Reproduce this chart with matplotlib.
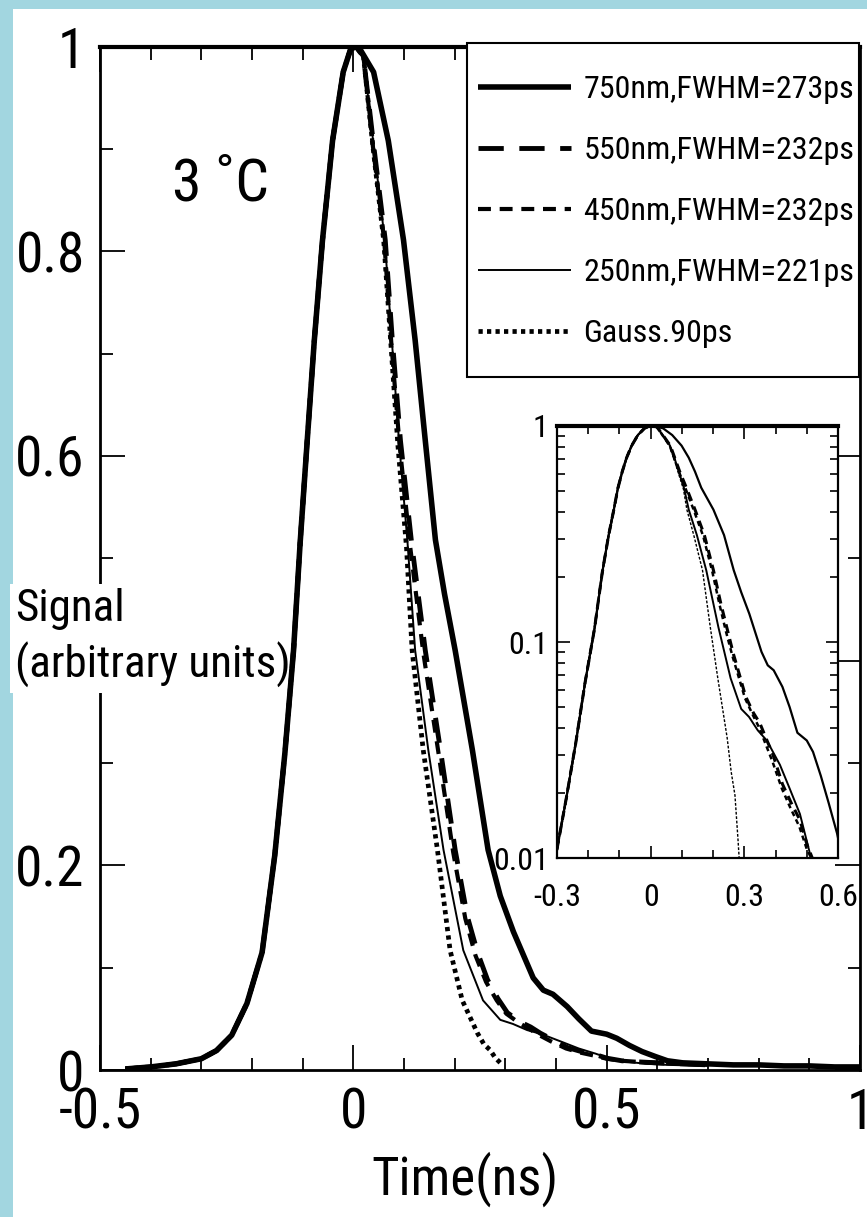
import os
import numpy as np
import matplotlib
matplotlib.use('Agg')
import matplotlib.pyplot as plt
from matplotlib import font_manager
from matplotlib.font_manager import FontProperties
from matplotlib.patches import Rectangle
from matplotlib.ticker import MultipleLocator, LogLocator, NullFormatter

# rising edge, shared by all traces (they sit on top of each other)
rise_t = [-0.45, -0.40, -0.35, -0.30, -0.27, -0.24, -0.21, -0.18, -0.155,
          -0.135, -0.118, -0.105, -0.091, -0.077, -0.061, -0.041, -0.02, -0.005]
rise_s = [0.001, 0.003, 0.006, 0.011, 0.019, 0.034, 0.065, 0.115, 0.21,
          0.31, 0.41, 0.515, 0.615, 0.713, 0.81, 0.908, 0.975, 0.998]

# falling edges
t750 = [0.01, 0.04, 0.069, 0.099, 0.122, 0.142, 0.162, 0.18, 0.201, 0.235,
        0.266, 0.29, 0.316, 0.355, 0.375, 0.394, 0.422, 0.445, 0.47, 0.50,
        0.52, 0.545, 0.57, 0.597, 0.62, 0.65, 0.70, 0.75, 0.80, 0.85, 0.90,
        0.95, 1.0]
s750 = [1.0, 0.975, 0.908, 0.811, 0.713, 0.615, 0.518, 0.465, 0.41, 0.3125,
        0.215, 0.17, 0.135, 0.09, 0.078, 0.074, 0.062, 0.05, 0.038, 0.035,
        0.031, 0.024, 0.018, 0.013, 0.009, 0.007, 0.006, 0.005, 0.005, 0.004,
        0.004, 0.003, 0.003]

t550 = [0.005, 0.02, 0.039, 0.063, 0.077, 0.093, 0.115, 0.142, 0.172, 0.201,
        0.225, 0.245, 0.265, 0.285, 0.304, 0.329, 0.35, 0.369, 0.392, 0.422,
        0.45, 0.478, 0.501, 0.53, 0.56, 0.60, 0.65, 0.70]
s550 = [1.0, 0.99, 0.908, 0.811, 0.713, 0.615, 0.515, 0.41, 0.3125, 0.215,
        0.15, 0.115, 0.088, 0.07, 0.056, 0.047, 0.042, 0.036, 0.03, 0.022,
        0.018, 0.015, 0.0115, 0.009, 0.008, 0.007, 0.006, 0.005]

t450 = [0.005, 0.02, 0.038, 0.061, 0.075, 0.091, 0.112, 0.138, 0.168, 0.197,
        0.221, 0.241, 0.262, 0.283, 0.302, 0.327, 0.348, 0.367, 0.39, 0.42,
        0.448, 0.476, 0.50, 0.53, 0.56, 0.60, 0.65, 0.70]
s450 = [1.0, 0.99, 0.905, 0.81, 0.71, 0.612, 0.512, 0.408, 0.31, 0.213,
        0.148, 0.112, 0.086, 0.068, 0.055, 0.046, 0.04, 0.034, 0.028, 0.021,
        0.017, 0.014, 0.011, 0.009, 0.008, 0.007, 0.006, 0.005]

t250 = [0.005, 0.02, 0.039, 0.062, 0.076, 0.09, 0.107, 0.122, 0.148, 0.178,
        0.217, 0.256, 0.29, 0.315, 0.343, 0.372, 0.414, 0.445, 0.478, 0.51,
        0.54, 0.58, 0.62, 0.70]
s250 = [1.0, 0.99, 0.908, 0.811, 0.713, 0.615, 0.515, 0.41, 0.3125, 0.215,
        0.117, 0.068, 0.049, 0.045, 0.039, 0.035, 0.027, 0.021, 0.016, 0.0105,
        0.008, 0.006, 0.005, 0.004]

tgau = [0.005, 0.02, 0.038, 0.06, 0.074, 0.088, 0.105, 0.116, 0.138, 0.166,
        0.191, 0.215, 0.245, 0.258, 0.27, 0.28, 0.29]
sgau = [1.0, 0.99, 0.905, 0.81, 0.71, 0.61, 0.51, 0.41, 0.3125, 0.215,
        0.117, 0.068, 0.036, 0.025, 0.0195, 0.012, 0.007]

labels = ['750nm,FWHM=273ps', '550nm,FWHM=232ps', '450nm,FWHM=232ps',
          '250nm,FWHM=221ps', 'Gauss.90ps']

traces = [(t750, s750), (t550, s550), (t450, s450), (t250, s250), (tgau, sgau)]
main_styles = [dict(lw=4.0, ls='-'),
               dict(lw=3.5, ls=(0, (5.2, 3.2))),
               dict(lw=3.0, ls=(0, (3.1, 2.1))),
               dict(lw=1.4, ls='-'),
               dict(lw=3.4, ls=(0, (0.9, 0.9)))]
inset_styles = [dict(lw=1.6, ls='-'),
                dict(lw=2.2, ls=(0, (3.0, 2.0))),
                dict(lw=1.8, ls=(0, (2.0, 1.5))),
                dict(lw=1.4, ls='-'),
                dict(lw=1.0, ls=(0, (2.0, 1.2)))]


# condensed sans for the lettering; plain Liberation Sans (smaller) if none
def find_font(candidates):
    files = {os.path.basename(f.fname): f.fname
             for f in font_manager.fontManager.ttflist}
    for name in candidates:
        if name in files:
            return files[name]
    return None


narrow = find_font(['NotoSans-ExtraCondensed.ttf', 'NotoSans-Condensed.ttf',
                    'RobotoCondensed-Regular.ttf',
                    'LiberationSansNarrow-Regular.ttf',
                    'DejaVuSansCondensed.ttf'])


def fprop(size, fallback_size):
    if narrow is None:
        return FontProperties(family='Liberation Sans', size=fallback_size)
    return FontProperties(fname=narrow, size=size)


tick_fp = fprop(40, 29)
xlab_fp = fprop(38, 28)
ylab_fp = fprop(32.5, 24)
deg_fp = fprop(43, 31)
inset_fp = fprop(23, 17)
leg_fp = fprop(23, 20)

fig = plt.figure(figsize=(8.67, 12.17), dpi=100, facecolor='#a2d6e0')
fig.patches.append(Rectangle((13/867, 0), 1, 1208/1217, transform=fig.transFigure,
                             facecolor='white', edgecolor='none', zorder=-1))

# main panel
ax = fig.add_axes([100/867, 147/1217, 760/867, 1023.5/1217])
for (t, s), st, lab in zip(traces, main_styles, labels):
    ax.plot(np.r_[rise_t, t], np.r_[rise_s, s], color='black', label=lab,
            solid_capstyle='butt', dash_capstyle='butt', zorder=3, **st)

ax.set_xlim(-0.5, 1)
ax.set_ylim(0, 1)
ax.set_xticks([-0.5, 0, 0.5, 1])
ax.set_xticklabels(['-0.5', '0', '0.5', '1'])
ax.xaxis.set_minor_locator(MultipleLocator(0.1))
ax.set_yticks([0, 0.2, 0.4, 0.6, 0.8, 1])
ax.set_yticklabels(['0', '0.2', '', '0.6', '0.8', '1'])
ax.yaxis.set_minor_locator(MultipleLocator(0.1))
for lbl in ax.get_xticklabels() + ax.get_yticklabels():
    lbl.set_fontproperties(tick_fp)
ax.tick_params(which='both', direction='in', top=True, right=True, width=1.3)
ax.tick_params(which='major', length=18)
ax.tick_params(which='minor', length=9)
ax.tick_params(axis='x', pad=12)
ax.tick_params(axis='y', pad=11)
for side in ['left', 'right', 'bottom']:
    ax.spines[side].set_linewidth(2.0)
ax.spines['top'].set_linewidth(3.0)
# the y label sits over the left spine, the traces stay on top of it
ax.spines['left'].set_zorder(1)

ax.text(-0.358, 0.85, '3 \u02daC', fontproperties=deg_fp, va='baseline')
ax.text(15/867, 579/1217, 'Signal\n(arbitrary units)', transform=fig.transFigure,
        ha='left', va='center', fontproperties=ylab_fp, linespacing=1.35,
        zorder=2, clip_on=False,
        bbox=dict(boxstyle='square,pad=0.1', fc='white', ec='none'))

# legend with a hand-placed frame
ax.add_patch(Rectangle((467/867, 840/1217), 392/867, 334/1217,
                       transform=fig.transFigure, facecolor='white',
                       edgecolor='black', lw=1.5, zorder=4, clip_on=False))
leg = ax.legend(loc='upper left', bbox_to_anchor=(478/867, 1142/1217),
                bbox_transform=fig.transFigure, borderaxespad=0, borderpad=0,
                prop=leg_fp, handlelength=2.9, handletextpad=0.4,
                labelspacing=1.0, frameon=False)
leg.set_zorder(5)

fig.text(465/867, 22/1217, 'Time(ns)', ha='center', va='baseline',
         fontproperties=xlab_fp)

# log inset
axin = fig.add_axes([557/867, 359/1217, 281/867, 432/1217])
for (t, s), st in zip(traces, inset_styles):
    axin.plot(np.r_[rise_t, t], np.r_[rise_s, s], color='black', **st)
axin.set_yscale('log')
axin.set_xlim(-0.3, 0.6)
axin.set_ylim(0.01, 1)
axin.set_xticks([-0.3, 0, 0.3, 0.6])
axin.set_xticklabels(['-0.3', '0', '0.3', '0.6'])
axin.xaxis.set_minor_locator(MultipleLocator(0.1))
axin.set_yticks([0.01, 0.1, 1])
axin.set_yticklabels(['0.01', '0.1', '1'])
axin.yaxis.set_minor_locator(LogLocator(base=10, subs=np.arange(2, 10)))
axin.yaxis.set_minor_formatter(NullFormatter())
for lbl in axin.get_xticklabels() + axin.get_yticklabels():
    lbl.set_fontproperties(inset_fp)
axin.tick_params(which='both', direction='in', top=True, right=True, width=1.2)
axin.tick_params(which='major', length=9)
axin.tick_params(which='minor', length=6)
axin.tick_params(axis='x', pad=18)
axin.tick_params(axis='y', pad=6)
for side in ['left', 'right', 'bottom']:
    axin.spines[side].set_linewidth(1.6)
axin.spines['top'].set_linewidth(3.0)

fig.savefig('out.png', dpi=100, facecolor=fig.get_facecolor())
